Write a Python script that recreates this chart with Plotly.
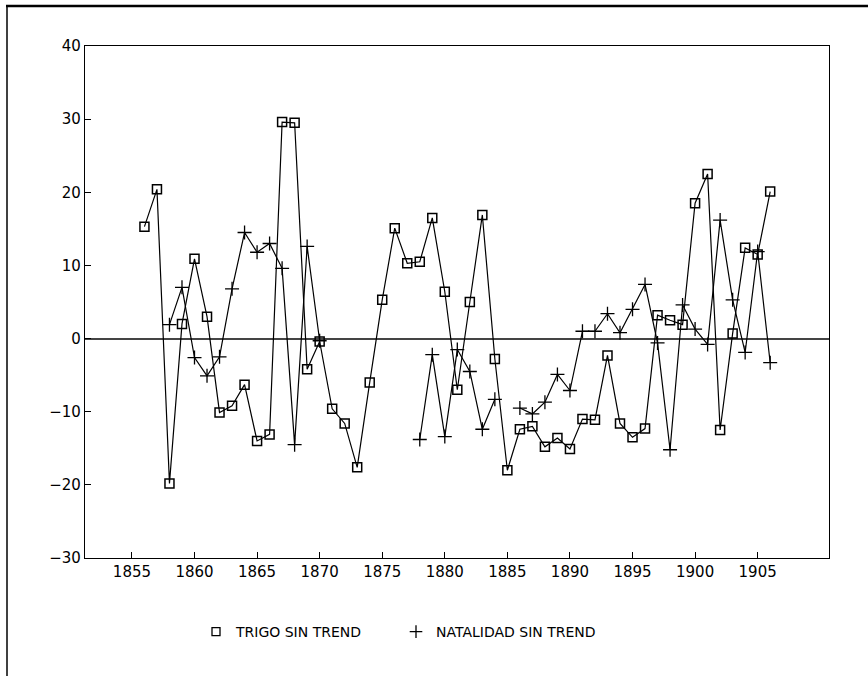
import plotly.graph_objects as go

# Years of the detrended series
years = list(range(1856, 1907))

# Wheat (trigo) deviation from trend, 1856-1906
trigo = [15.3, 20.4, -19.8, 2.0, 10.9, 3.0, -10.1, -9.2, -6.3, -14.0,
         -13.1, 29.6, 29.5, -4.2, -0.4, -9.6, -11.6, -17.6, -6.0, 5.3,
         15.1, 10.3, 10.5, 16.5, 6.4, -7.0, 5.0, 16.9, -2.8, -18.0,
         -12.4, -12.0, -14.8, -13.6, -15.1, -11.0, -11.1, -2.3, -11.6, -13.5,
         -12.3, 3.2, 2.5, 1.9, 18.5, 22.5, -12.5, 0.7, 12.4, 11.5,
         20.1]

# Birth rate (natalidad) deviation from trend; None where no value
natalidad = [None, None, 1.9, 7.0, -2.6, -5.1, -2.5, 6.8, 14.5, 11.8,
             13.0, 9.6, -14.5, 12.6, -0.3, None, None, None, None, None,
             None, None, -13.8, -2.2, -13.4, -1.5, -4.5, -12.4, -8.3, None,
             -9.5, -10.3, -8.7, -4.9, -7.1, 1.0, 1.0, 3.4, 0.8, 4.0,
             7.4, -0.6, -15.2, 4.6, 1.3, -0.8, 16.2, 5.3, -1.9, 11.9,
             -3.3]

x_ticks = list(range(1855, 1906, 5))
y_ticks = list(range(-30, 41, 10))

series_names = ["TRIGO SIN TREND", "NATALIDAD SIN TREND"]

W, H = 868, 676
ML, MR, MT, MB = 85, 39, 46, 118
PW, PH = W - ML - MR, H - MT - MB


def px(xp):
    return (xp - ML) / PW


def py(yp):
    return (H - MB - yp) / PH


fig = go.Figure()

fig.add_trace(go.Scatter(
    x=years, y=trigo, mode="lines+markers", showlegend=False,
    line=dict(color="black", width=1.2),
    marker=dict(symbol="square-open", size=9, color="black",
                line=dict(color="black", width=1.5)),
))
fig.add_trace(go.Scatter(
    x=years, y=natalidad, mode="lines+markers", showlegend=False,
    connectgaps=False,
    line=dict(color="black", width=1.2),
    marker=dict(symbol="cross-thin-open", size=10, color="black",
                line=dict(color="black", width=1.3)),
))

# Legend keys: symbol only, no line
fig.add_trace(go.Scatter(
    x=[None], y=[None], mode="markers", name=series_names[0],
    marker=dict(symbol="square-open", size=8, color="black",
                line=dict(color="black", width=1.3)),
))
fig.add_trace(go.Scatter(
    x=[None], y=[None], mode="markers", name=series_names[1],
    marker=dict(symbol="cross-thin-open", size=9, color="black",
                line=dict(color="black", width=1.3)),
))

axis_font = dict(family="DejaVu Sans", size=15, color="black")

fig.update_xaxes(
    range=[1851.25, 1910.7], tickvals=x_ticks, ticks="inside", ticklen=6,
    tickcolor="black", tickwidth=1, showline=True, linecolor="black",
    linewidth=1.3, mirror=True, showgrid=False, zeroline=False,
    tickfont=axis_font,
)
fig.update_yaxes(
    range=[-30, 40], tickvals=y_ticks, ticks="inside", ticklen=6,
    tickcolor="black", tickwidth=1, showline=True, linecolor="black",
    linewidth=1.3, mirror=True, showgrid=False, zeroline=True,
    zerolinecolor="#444444", zerolinewidth=1.5, tickfont=axis_font,
)

# Page frame along the top and left edges
fig.add_shape(type="line", xref="paper", yref="paper",
              x0=px(6), x1=px(868), y0=py(6), y1=py(6),
              line=dict(color="black", width=2.5))
fig.add_shape(type="line", xref="paper", yref="paper",
              x0=px(7), x1=px(7), y0=py(6), y1=py(676),
              line=dict(color="black", width=1.5))

fig.update_layout(
    width=W, height=H,
    margin=dict(l=ML, r=MR, t=MT, b=MB),
    paper_bgcolor="white", plot_bgcolor="white",
    font=dict(family="DejaVu Sans", size=14, color="black"),
    legend=dict(orientation="h", x=px(196), y=py(632),
                xanchor="left", yanchor="middle",
                entrywidth=155, entrywidthmode="pixels",
                font=dict(family="DejaVu Sans", size=14, color="black"),
                itemwidth=30, bgcolor="rgba(0,0,0,0)"),
)

fig.write_html("out.html")
